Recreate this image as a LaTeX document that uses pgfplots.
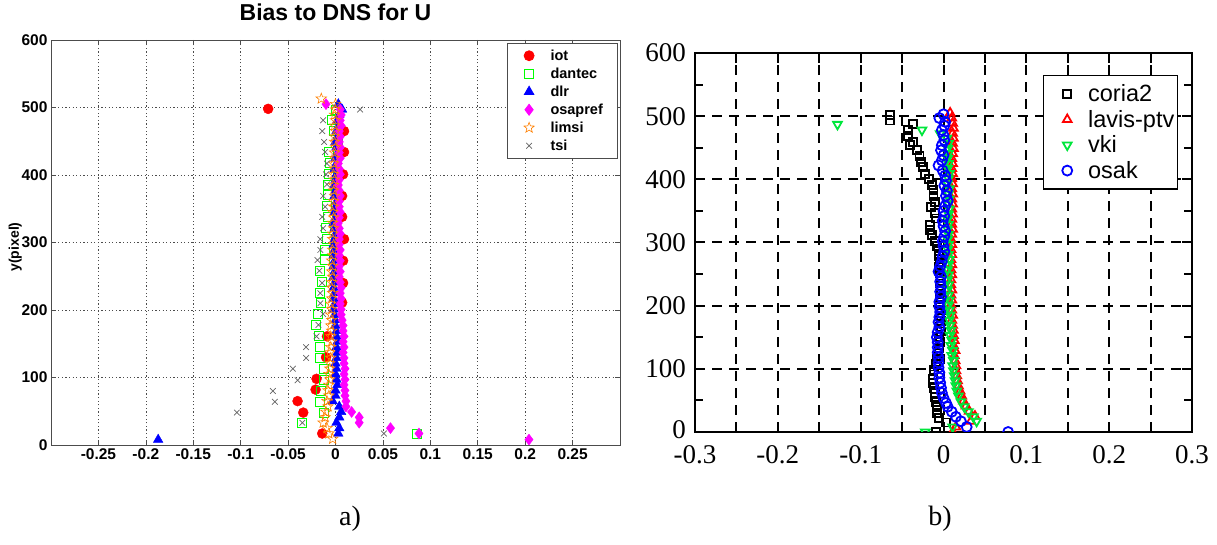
\documentclass[border=0pt]{standalone}
\usepackage{pgfplots}
\pgfplotsset{compat=1.18}
\usepackage{fontspec}
\setmainfont{Liberation Serif}
\newfontfamily\arialfont{Liberation Sans}
\definecolor{mred}{RGB}{255,0,0}
\definecolor{mgreen}{RGB}{0,255,0}
\definecolor{mgreenb}{RGB}{0,230,60}
\definecolor{mblue}{RGB}{0,0,255}
\definecolor{mmag}{RGB}{255,0,255}
\definecolor{morange}{RGB}{255,128,0}
\definecolor{mgray}{RGB}{100,100,100}
\pgfdeclareplotmark{ostar}{%
  \pgfpathmoveto{\pgfpointpolar{90}{\pgfplotmarksize}}%
  \pgfpathlineto{\pgfpointpolar{126}{0.42\pgfplotmarksize}}%
  \pgfpathlineto{\pgfpointpolar{162}{\pgfplotmarksize}}%
  \pgfpathlineto{\pgfpointpolar{198}{0.42\pgfplotmarksize}}%
  \pgfpathlineto{\pgfpointpolar{234}{\pgfplotmarksize}}%
  \pgfpathlineto{\pgfpointpolar{270}{0.42\pgfplotmarksize}}%
  \pgfpathlineto{\pgfpointpolar{306}{\pgfplotmarksize}}%
  \pgfpathlineto{\pgfpointpolar{342}{0.42\pgfplotmarksize}}%
  \pgfpathlineto{\pgfpointpolar{18}{\pgfplotmarksize}}%
  \pgfpathlineto{\pgfpointpolar{54}{0.42\pgfplotmarksize}}%
  \pgfpathclose
  \pgfusepathqstroke}
\begin{document}
\begin{tikzpicture}[x=1pt,y=1pt]
\useasboundingbox (0,0) rectangle (1217,545);
% ---------------- left panel ----------------
\begin{axis}[
  at={(51pt,100pt)}, anchor=south west,
  scale only axis, width=569pt, height=405pt,
  xmin=-0.3, xmax=0.3, ymin=0, ymax=600,
  xtick={-0.25,-0.2,-0.15,-0.1,-0.05,0,0.05,0.1,0.15,0.2,0.25},
  xticklabels={-0.25,-0.2,-0.15,-0.1,-0.05,0,0.05,0.1,0.15,0.2,0.25},
  ytick={0,100,200,300,400,500,600},
  yticklabels={0,100,200,300,400,500,600},
  tick align=inside, major tick length=5pt,
  grid=major,
  major grid style={black!70, line width=0.6pt, dash pattern=on 1.2pt off 2.4pt},
  axis line style={black!70, line width=0.8pt},
  tick style={black!70, line width=0.6pt},
  ticklabel style={font=\arialfont\bfseries\fontsize{15.5}{17}\selectfont},
  title={Bias to DNS for U},
  title style={font=\arialfont\bfseries\fontsize{23}{26}\selectfont, at={(0.5,1)}, anchor=base, yshift=13.5pt},
  ylabel={y(pixel)},
  ylabel style={font=\arialfont\bfseries\fontsize{14}{16}\selectfont, at={(axis description cs:-0.063,0.489)}, anchor=center},
  clip marker paths=true,
  legend cell align=left,
  legend image code/.code={\path (-7pt,0pt) (20pt,0pt); \draw[#1] plot coordinates {(0pt,0pt)};},
  legend style={at={(0.997,0.993)}, anchor=north east, draw=black!70, line width=0.8pt,
    font=\arialfont\bfseries\fontsize{14.5}{16}\selectfont,
    nodes={inner sep=1pt},
    row sep=4pt, inner xsep=14pt, inner ysep=5.5pt},
]
\addplot[only marks, mark=*, mark size=5pt, color=mred] coordinates {
(-0.071,498) (0.009,465) (0.009,434) (0.008,401) (0.007,369) (0.007,338) (0.009,305)
(0.008,273) (0.008,240) (0.007,211) (-0.009,161) (-0.010,130) (-0.020,98) (-0.021,82)
(-0.040,65) (-0.034,48) (-0.014,17)};
\addlegendentry{iot}
\addplot[only marks, mark=square, mark size=4.5pt, color=mgreen, line width=0.7pt] coordinates {
(0.000,497) (-0.004,481) (-0.002,465) (0.002,449) (-0.007,434) (-0.006,418) (-0.007,402)
(-0.008,386) (-0.008,370) (-0.009,354) (-0.008,338) (-0.010,321) (-0.009,305) (-0.011,289)
(-0.011,274) (-0.016,258) (-0.014,241) (-0.016,225) (-0.015,210) (-0.019,194) (-0.021,178)
(-0.018,161) (-0.016,145) (-0.016,129) (-0.012,113) (-0.012,96) (-0.015,80) (-0.016,64)
(-0.012,48) (-0.035,33) (0.086,17)};
\addlegendentry{dantec}
\addplot[only marks, mark=triangle*, mark size=5.5pt, color=mblue] coordinates {
(0.003,505) (0.007,497) (0.004,489) (0.002,481) (0.003,473) (0.001,465) (0.002,457)
(0.000,449) (0.001,441) (0.002,433) (0.000,425) (0.001,417) (-0.001,409) (0.001,401)
(0.000,393) (-0.001,385) (0.000,377) (-0.001,369) (0.001,361) (0.000,353) (-0.001,345)
(0.000,337) (-0.002,329) (-0.001,321) (0.000,313) (-0.001,305) (-0.002,297) (-0.001,289)
(-0.002,281) (-0.001,273) (-0.002,265) (-0.001,257) (-0.002,249) (-0.001,241) (-0.002,233)
(-0.001,225) (-0.002,217) (-0.001,209) (-0.002,201) (-0.001,193) (0.000,185) (0.000,177)
(0.001,169) (0.001,161) (0.002,153) (0.001,145) (0.002,137) (0.001,129) (0.000,121)
(0.001,113) (0.000,105) (0.001,97) (0.002,89) (0.000,81) (0.000,73) (-0.003,65)
(0.004,57) (0.006,49) (0.004,41) (0.001,33) (0.004,25) (0.003,17) (-0.187,8)};
\addlegendentry{dlr}
\addplot[only marks, mark=diamond*, mark size=5.5pt, color=mmag] coordinates {
(-0.010,505) (0.005,497) (0.006,489) (0.005,481) (0.006,473) (0.004,465) (0.005,457)
(0.004,449) (0.005,441) (0.004,433) (0.005,425) (0.003,417) (0.004,409) (0.005,401)
(0.004,393) (0.003,385) (0.004,377) (0.005,369) (0.004,361) (0.004,353) (0.005,345)
(0.004,337) (0.003,329) (0.004,321) (0.005,313) (0.004,305) (0.004,297) (0.005,289)
(0.004,281) (0.005,273) (0.004,265) (0.005,257) (0.004,249) (0.005,241) (0.006,233)
(0.005,225) (0.006,217) (0.005,209) (0.006,201) (0.006,193) (0.007,185) (0.008,177)
(0.008,169) (0.009,161) (0.008,153) (0.009,145) (0.008,137) (0.009,129) (0.009,121)
(0.010,113) (0.009,105) (0.010,97) (0.009,89) (0.010,81) (0.010,73) (0.011,65)
(0.011,57) (0.017,49) (0.025,41) (0.025,33) (0.058,25) (0.088,17) (0.204,8)};
\addlegendentry{osapref}
\addplot[only marks, mark=ostar, mark size=5.5pt, color=morange, line width=0.6pt] coordinates {
(-0.015,513) (0.000,505) (0.000,497) (-0.001,489) (0.000,481) (-0.001,473) (0.000,465)
(-0.001,457) (-0.001,449) (0.000,441) (-0.001,433) (-0.001,425) (-0.002,417) (-0.001,409)
(-0.002,401) (-0.001,393) (-0.002,385) (-0.002,377) (-0.001,369) (-0.002,361) (-0.002,353)
(-0.003,345) (-0.002,337) (-0.003,329) (-0.002,321) (-0.003,313) (-0.003,305) (-0.002,297)
(-0.003,289) (-0.003,281) (-0.004,273) (-0.003,265) (-0.004,257) (-0.003,249) (-0.004,241)
(-0.004,233) (-0.003,225) (-0.004,217) (-0.005,209) (-0.004,201) (-0.005,193) (-0.004,185)
(-0.005,177) (-0.004,169) (-0.005,161) (-0.004,153) (-0.005,145) (-0.006,137) (-0.005,129)
(-0.006,121) (-0.006,113) (-0.007,105) (-0.006,97) (-0.007,89) (-0.008,81) (-0.007,73)
(-0.009,65) (-0.008,57) (-0.010,49) (-0.011,41) (-0.013,33) (-0.009,25) (-0.007,17) (-0.003,9)};
\addlegendentry{limsi}
\addplot[only marks, mark=x, mark size=4pt, color=mgray, line width=0.7pt] coordinates {
(0.026,497) (-0.013,481) (-0.014,465) (-0.012,449) (-0.011,434) (-0.009,417) (-0.010,401)
(-0.009,386) (-0.013,369) (-0.011,353) (-0.014,338) (-0.013,321) (-0.016,305) (-0.016,289)
(-0.019,274) (-0.017,258) (-0.014,240) (-0.016,225) (-0.016,210) (-0.013,194) (-0.018,178)
(-0.020,161) (-0.031,145) (-0.031,129) (-0.045,113) (-0.040,96) (-0.066,80) (-0.064,64)
(-0.104,48) (-0.035,33) (0.051,17)};
\addlegendentry{tsi}
\end{axis}
% ---------------- right panel ----------------
\begin{axis}[
  at={(695pt,113pt)}, anchor=south west,
  scale only axis, width=497pt, height=379pt,
  xmin=-0.3, xmax=0.3, ymin=0, ymax=600,
  xtick={-0.3,-0.25,-0.2,-0.15,-0.1,-0.05,0,0.05,0.1,0.15,0.2,0.25,0.3},
  xticklabels={-0.3,,-0.2,,-0.1,,0,,0.1,,0.2,,0.3},
  ytick={0,100,200,300,400,500,600},
  yticklabels={\raisebox{4pt}{0},100,200,300,400,500,600},
  minor ytick={50,150,250,350,450,550},
  tick align=inside, major tick length=10pt, minor tick length=8pt,
  axis line style={black, line width=2.5pt},
  tick style={black, line width=2pt},
  grid=major,
  major grid style={black, line width=2pt, dash pattern=on 10pt off 7pt},
  ticklabel style={font=\fontsize{27}{29}\selectfont, inner sep=1pt},
  xticklabel style={yshift=-12pt},
  yticklabel style={xshift=-8pt},
  clip marker paths=true,
  legend cell align=left,
  legend image code/.code={\path (-21pt,0pt) (19pt,0pt); \draw[#1] plot coordinates {(0pt,0pt)};},
  legend style={at={(0.972,0.942)}, anchor=north east, draw=black, line width=1.5pt,
    font=\arialfont\fontsize{23.5}{26}\selectfont,
    nodes={inner sep=1pt},
    row sep=5pt, inner xsep=2pt, inner ysep=8pt},
]
\addplot[only marks, mark=square, mark size=4pt, color=black, line width=1.8pt] coordinates {
(-0.065,502) (-0.065,493) (-0.037,487) (-0.043,478) (-0.043,468) (-0.037,459) (-0.040,454)
(-0.032,446) (-0.029,437) (-0.027,428) (-0.025,419) (-0.022,409) (-0.018,400) (-0.014,391)
(-0.012,383) (-0.012,373) (-0.010,364) (-0.015,356) (-0.010,347) (-0.009,338) (-0.016,328)
(-0.016,320) (-0.014,312) (-0.010,303) (-0.008,295) (-0.006,286) (-0.005,278) (-0.004,269)
(-0.005,261) (-0.004,252) (-0.003,244) (-0.004,235) (-0.003,227) (-0.004,218) (-0.003,210)
(-0.004,201) (-0.003,193) (-0.004,184) (-0.003,176) (-0.004,167) (-0.003,159) (-0.005,150)
(-0.004,142) (-0.005,133) (-0.006,125) (-0.008,116) (-0.009,108) (-0.011,99) (-0.012,91)
(-0.013,84) (-0.013,77) (-0.011,69) (-0.010,62) (-0.010,55) (-0.009,48) (-0.008,40)
(-0.008,30) (-0.005,22) (0.003,15) (-0.009,0)};
\addlegendentry{coria2}
\addplot[only marks, mark=triangle, mark size=5pt, color=mred, line width=1.8pt] coordinates {
(0.008,505) (0.010,497) (0.011,489) (0.012,481) (0.011,473) (0.012,465) (0.011,457)
(0.012,449) (0.011,441) (0.010,433) (0.011,425) (0.010,417) (0.011,409) (0.010,401)
(0.011,393) (0.010,385) (0.011,377) (0.010,369) (0.011,361) (0.010,353) (0.011,345)
(0.010,337) (0.010,329) (0.011,321) (0.010,313) (0.009,305) (0.010,297) (0.009,289)
(0.010,281) (0.009,273) (0.010,265) (0.009,257) (0.010,249) (0.009,241) (0.009,233)
(0.010,225) (0.009,217) (0.010,209) (0.009,201) (0.010,193) (0.011,185) (0.010,177)
(0.011,169) (0.012,161) (0.012,153) (0.013,145) (0.012,137) (0.014,129) (0.013,121)
(0.014,113) (0.015,105) (0.015,97) (0.016,89) (0.017,81) (0.018,73) (0.020,65)
(0.022,57) (0.024,49) (0.027,41) (0.031,33) (0.038,25) (0.033,17) (0.015,8) (0.011,0)};
\addlegendentry{lavis-ptv}
\addplot[only marks, mark=triangle, mark options={rotate=180}, mark size=5pt, color=mgreenb, line width=1.8pt] coordinates {
(-0.128,487) (-0.026,478) (-0.004,472)
(0.004,465) (0.006,457) (0.005,449) (0.006,441) (0.005,433) (0.006,425) (0.005,417)
(0.007,409) (0.006,401) (0.005,393) (0.007,385) (0.006,377) (0.007,369) (0.006,361)
(0.007,353) (0.006,345) (0.005,337) (0.006,329) (0.005,321) (0.006,313) (0.005,305)
(0.006,297) (0.005,289) (0.006,281) (0.007,273) (0.006,265) (0.005,257) (0.006,249)
(0.005,241) (0.006,233) (0.005,225) (0.006,217) (0.007,209) (0.006,201) (0.007,193)
(0.008,185) (0.007,177) (0.008,169) (0.009,161) (0.008,153) (0.010,145) (0.009,137)
(0.011,129) (0.010,121) (0.012,113) (0.011,105) (0.012,97) (0.013,89) (0.014,81)
(0.015,73) (0.016,65) (0.018,57) (0.021,48) (0.025,40) (0.030,32) (0.036,24) (0.040,17)
(0.011,8) (-0.022,0)};
\addlegendentry{vki}
\addplot[only marks, mark=o, mark size=5pt, color=mblue, line width=1.8pt] coordinates {
(0.000,503) (-0.005,497) (0.002,491) (0.001,485) (-0.002,478) (0.000,470) (0.001,462)
(-0.002,454) (-0.003,446) (0.000,438) (-0.002,430) (-0.006,422) (-0.001,414) (0.002,406)
(0.003,398) (0.001,390) (0.004,382) (0.003,374) (0.005,366) (0.002,358) (0.000,350)
(0.001,342) (-0.001,334) (0.000,326) (0.002,318) (0.001,310) (-0.001,302) (0.000,294)
(0.001,286) (-0.001,278) (-0.002,270) (-0.004,262) (-0.006,254) (-0.003,246) (-0.004,238)
(-0.003,230) (-0.004,222) (-0.003,214) (-0.005,206) (-0.005,198) (-0.004,190) (-0.005,182)
(-0.006,174) (-0.005,166) (-0.007,158) (-0.008,150) (-0.007,142) (-0.007,134) (-0.007,126)
(-0.006,118) (-0.006,110) (-0.006,102) (-0.005,94) (-0.005,86) (-0.004,78) (-0.003,70)
(-0.002,62) (0.000,54) (0.003,46) (0.005,40) (0.010,32) (0.015,24) (0.021,17) (0.028,8)
(0.078,0)};
\addlegendentry{osak}
\end{axis}
\node[font=\fontsize{28}{30}\selectfont, anchor=base] at (350,19) {a)};
\node[font=\fontsize{28}{30}\selectfont, anchor=base] at (940,19) {b)};
\end{tikzpicture}
\end{document}
